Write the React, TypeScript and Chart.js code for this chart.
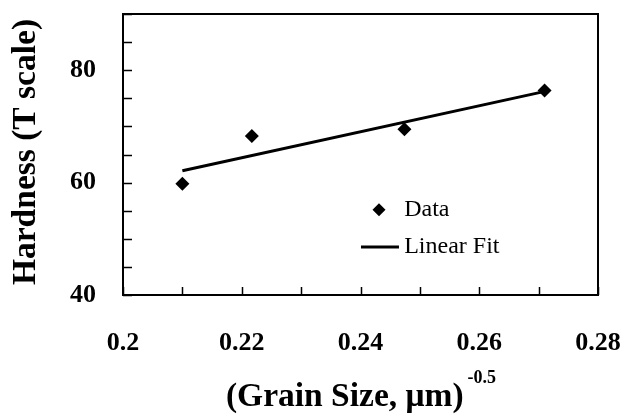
import React, { useEffect, useRef } from 'react';
import { Chart, registerables } from 'chart.js';

Chart.register(...registerables);

// ---- data ----
const grainSize = [0.21, 0.2217, 0.2474, 0.271];
const hardness = [59.8, 68.3, 69.5, 76.4];
const fitX = [0.21, 0.2705];
const fitY = [62.1, 76.1];
const xTickLabels = ['0.2', '0.22', '0.24', '0.26', '0.28'];
const yTickLabels = ['40', '60', '80'];
const legendLabels = ['Data', 'Linear Fit'];
const yTitle = 'Hardness (T scale)';
const xTitle = '(Grain Size, \u03bcm)';
const xTitleSup = '-0.5';

const FONT = "'Liberation Serif', 'Times New Roman', serif";

const zeroPad = (s: any) => {
  s.paddingLeft = 0;
  s.paddingRight = 0;
  s.paddingTop = 0;
  s.paddingBottom = 0;
};

const framePlugin = {
  id: 'frame',
  afterDraw(chart: any) {
    const { ctx, chartArea: a, scales } = chart;
    const xs = scales.x;
    const ys = scales.y;
    ctx.save();
    ctx.strokeStyle = '#000';
    // inward ticks
    ctx.lineWidth = 1.5;
    ctx.beginPath();
    xs.ticks.forEach((t: any) => {
      const px = Math.round(xs.getPixelForValue(t.value)) + 0.5;
      ctx.moveTo(px, a.bottom);
      ctx.lineTo(px, a.bottom - 8);
    });
    ys.ticks.forEach((t: any) => {
      const py = Math.round(ys.getPixelForValue(t.value)) + 0.5;
      ctx.moveTo(a.left, py);
      ctx.lineTo(a.left + 9, py);
    });
    ctx.stroke();
    // box
    ctx.lineWidth = 2;
    ctx.strokeRect(a.left, a.top, a.right - a.left, a.bottom - a.top);

    // legend
    const w = a.right - a.left;
    const h = a.bottom - a.top;
    const mx = a.left + 0.539 * w;
    const my = a.top + 0.697 * h;
    const r = 6.5;
    ctx.fillStyle = '#000';
    ctx.beginPath();
    ctx.moveTo(mx, my - r);
    ctx.lineTo(mx + r, my);
    ctx.lineTo(mx, my + r);
    ctx.lineTo(mx - r, my);
    ctx.closePath();
    ctx.fill();
    const ly = a.top + 0.829 * h;
    ctx.lineWidth = 3;
    ctx.beginPath();
    ctx.moveTo(a.left + 0.501 * w, ly);
    ctx.lineTo(a.left + 0.581 * w, ly);
    ctx.stroke();
    ctx.font = `24px ${FONT}`;
    ctx.textBaseline = 'middle';
    ctx.textAlign = 'left';
    const tx = a.left + 0.592 * w;
    ctx.fillText(legendLabels[0], tx, my);
    ctx.fillText(legendLabels[1], tx, ly);

    // y title
    ctx.save();
    ctx.translate(26, 152);
    ctx.rotate(-Math.PI / 2);
    ctx.font = `bold 33.5px ${FONT}`;
    ctx.textAlign = 'center';
    ctx.textBaseline = 'middle';
    ctx.fillText(yTitle, 0, 0);
    ctx.restore();

    // x title with superscript
    ctx.font = `bold 33.5px ${FONT}`;
    const mw = ctx.measureText(xTitle).width;
    ctx.font = `bold 18px ${FONT}`;
    const sw = ctx.measureText(xTitleSup).width;
    const cx = 361;
    const startX = cx - (mw + sw + 4) / 2;
    ctx.font = `bold 33.5px ${FONT}`;
    ctx.textAlign = 'left';
    ctx.textBaseline = 'alphabetic';
    ctx.fillText(xTitle, startX, 406);
    ctx.font = `bold 18px ${FONT}`;
    ctx.fillText(xTitleSup, startX + mw + 4, 383);
    ctx.restore();
  },
};

export default function App() {
  const ref = useRef<HTMLCanvasElement | null>(null);
  useEffect(() => {
    document.body.style.margin = '0';
    const c = ref.current;
    if (!c) return;
    const chart = new Chart(c, {
      type: 'scatter',
      data: {
        datasets: [
          {
            label: legendLabels[0],
            data: grainSize.map((x, i) => ({ x, y: hardness[i] })),
            pointStyle: 'rectRot',
            pointRadius: 7,
            backgroundColor: '#000',
            borderColor: '#000',
            borderWidth: 0,
            showLine: false,
          },
          {
            label: legendLabels[1],
            data: fitX.map((x, i) => ({ x, y: fitY[i] })),
            showLine: true,
            pointRadius: 0,
            borderColor: '#000',
            borderWidth: 3,
            fill: false,
          },
        ],
      },
      options: {
        animation: false,
        responsive: true,
        maintainAspectRatio: false,
        layout: { padding: { top: 14, right: 26, left: 0, bottom: 0 } },
        plugins: {
          legend: { display: false },
          tooltip: { enabled: false },
        },
        scales: {
          x: {
            type: 'linear',
            min: 0.2,
            max: 0.28,
            afterFit: (s: any) => {
              s.height = 123;
              zeroPad(s);
            },
            grid: { display: false, drawTicks: false },
            border: { display: false },
            ticks: {
              stepSize: 0.01,
              autoSkip: false,
              maxRotation: 0,
              padding: 33,
              color: '#000',
              font: { family: FONT, size: 26, weight: 'bold' },
              callback: (v: any) => {
                const l = String(+Number(v).toFixed(2));
                return xTickLabels.includes(l) ? l : '';
              },
            },
          },
          y: {
            type: 'linear',
            min: 40,
            max: 90,
            afterFit: (s: any) => {
              s.width = 123;
              zeroPad(s);
            },
            grid: { display: false, drawTicks: false },
            border: { display: false },
            ticks: {
              stepSize: 5,
              autoSkip: false,
              padding: 27,
              color: '#000',
              font: { family: FONT, size: 26, weight: 'bold' },
              callback: (v: any) => {
                const l = String(Math.round(Number(v)));
                return yTickLabels.includes(l) ? l : '';
              },
            },
          },
        },
      },
      plugins: [framePlugin],
    } as any);
    return () => chart.destroy();
  }, []);
  return (
    <div style={{ width: 624, height: 418, position: 'relative', background: '#fff' }}>
      <canvas ref={ref} />
    </div>
  );
}
